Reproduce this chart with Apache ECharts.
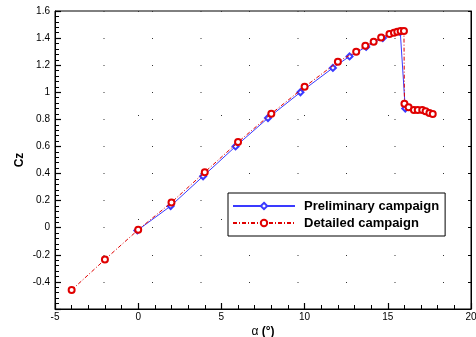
<!DOCTYPE html>
<html>
<head>
<meta charset="utf-8">
<script src="https://cdn.jsdelivr.net/npm/echarts@6/dist/echarts.min.js"></script>
<style>
html,body{margin:0;padding:0;background:#fff;}
#chart{width:476px;height:337px;}
</style>
</head>
<body>
<div id="chart"></div>
<script>
var seriesNames = ['Preliminary campaign', 'Detailed campaign'];
var alphaPrelim = [-0.05, 1.95, 3.9, 5.85, 7.8, 9.75, 11.7, 12.7, 13.7, 14.7, 15.75, 16.05];
var czPrelim    = [-0.02, 0.16, 0.38, 0.60, 0.81, 1.00, 1.18, 1.265, 1.335, 1.40, 1.445, 0.88];
var alphaDetail = [-4, -2, 0, 2, 4, 6, 8, 10, 12, 13.1, 13.65, 14.15, 14.6, 15.1, 15.37, 15.57, 15.77, 15.97, 16.0, 16.25, 16.57, 16.8, 17.07, 17.27, 17.5, 17.7];
var czDetail    = [-0.46, -0.235, -0.015, 0.187, 0.41, 0.632, 0.842, 1.04, 1.225, 1.30, 1.343, 1.373, 1.405, 1.43, 1.44, 1.447, 1.452, 1.452, 0.916, 0.89, 0.87, 0.87, 0.87, 0.86, 0.847, 0.84];
var xRange = [-5, 20, 5];
var yRange = [-0.6, 1.6, 0.2];

function pairs(xs, ys) { return xs.map(function (x, i) { return [x, ys[i]]; }); }

var chart = echarts.init(document.getElementById('chart'), null, {renderer: 'canvas'});
var font = 'Liberation Sans, Arial, sans-serif';
var tickColor = '#000';
chart.setOption({
  animation: false,
  backgroundColor: '#fff',
  textStyle: {fontFamily: font},
  grid: {left: 55, right: 5, top: 11, bottom: 28, containLabel: false, outerBoundsMode: 'none',
         show: true, borderColor: '#000', borderWidth: 1, backgroundColor: 'transparent'},
  legend: {
    orient: 'vertical', left: 228, top: 193,
    data: seriesNames,
    backgroundColor: '#fff',
    borderColor: '#000', borderWidth: 1, borderRadius: 0,
    padding: [6, 6, 6, 4],
    itemWidth: 62, itemHeight: 8, itemGap: 3,
    textStyle: {fontFamily: font, fontSize: 13, fontWeight: 'bold', color: '#000', lineHeight: 14, padding: [0, 0, 0, 4]}
  },
  xAxis: {
    type: 'value', min: xRange[0], max: xRange[1], interval: xRange[2],
    name: '{a|α }{b|(°)}', nameLocation: 'middle', nameGap: 17, nameMoveOverlap: false,
    nameTextStyle: {rich: {a: {fontSize: 12, fontFamily: font, color: '#000'}, b: {fontSize: 12, fontFamily: font, fontWeight: 'bold', color: '#000'}}},
    axisLine: {show: true, onZero: false, lineStyle: {color: '#000', width: 1}},
    axisTick: {show: true, inside: true, length: 6, lineStyle: {color: tickColor, width: 1.2}},
    minorTick: {show: true, splitNumber: 5, length: 4, lineStyle: {color: tickColor, width: 1}},
    axisLabel: {fontSize: 10, color: '#000', margin: 3, fontFamily: font, hideOverlap: false},
    splitLine: {show: true, lineStyle: {color: '#333', width: 1, type: [1, 103]}}
  },
  yAxis: [{
    type: 'value', min: yRange[0], max: yRange[1], interval: yRange[2],
    name: 'Cz', nameLocation: 'middle', nameGap: 29, nameMoveOverlap: false,
    nameTextStyle: {fontSize: 12, fontWeight: 'bold', color: '#000', fontFamily: font},
    axisLine: {show: true, onZero: false, lineStyle: {color: '#000', width: 1}},
    axisTick: {show: true, inside: true, length: 6, lineStyle: {color: tickColor, width: 1.2}},
    minorTick: {show: true, splitNumber: 5, length: 4, lineStyle: {color: tickColor, width: 1}},
    axisLabel: {fontSize: 10, color: '#000', margin: 5, fontFamily: font, hideOverlap: false,
      formatter: function (v) { var r = Math.round(v * 10) / 10; return r <= -0.6 ? '' : String(r); }},
    splitLine: {show: true, lineStyle: {color: '#333', width: 1, type: [1, 47.5]}}
  }, {
    type: 'value', min: yRange[0], max: yRange[1], interval: yRange[2], position: 'right',
    axisLine: {show: true, onZero: false, lineStyle: {color: '#000', width: 1}},
    axisTick: {show: true, inside: true, length: 3, lineStyle: {color: tickColor}},
    axisLabel: {show: false}, splitLine: {show: false}
  }],
  series: [{
    name: seriesNames[0], type: 'line', data: pairs(alphaPrelim, czPrelim),
    symbol: 'emptyDiamond', symbolSize: 6,
    lineStyle: {color: '#3a3aff', width: 1},
    itemStyle: {color: '#3a3aff', borderWidth: 1}, z: 2
  }, {
    name: seriesNames[1], type: 'line', data: pairs(alphaDetail, czDetail),
    symbol: 'emptyCircle', symbolSize: 6,
    lineStyle: {color: '#e00000', width: 1, type: [4, 2, 1, 2]},
    itemStyle: {color: '#e00000', borderWidth: 1}, z: 3
  }]
});
</script>
</body>
</html>
